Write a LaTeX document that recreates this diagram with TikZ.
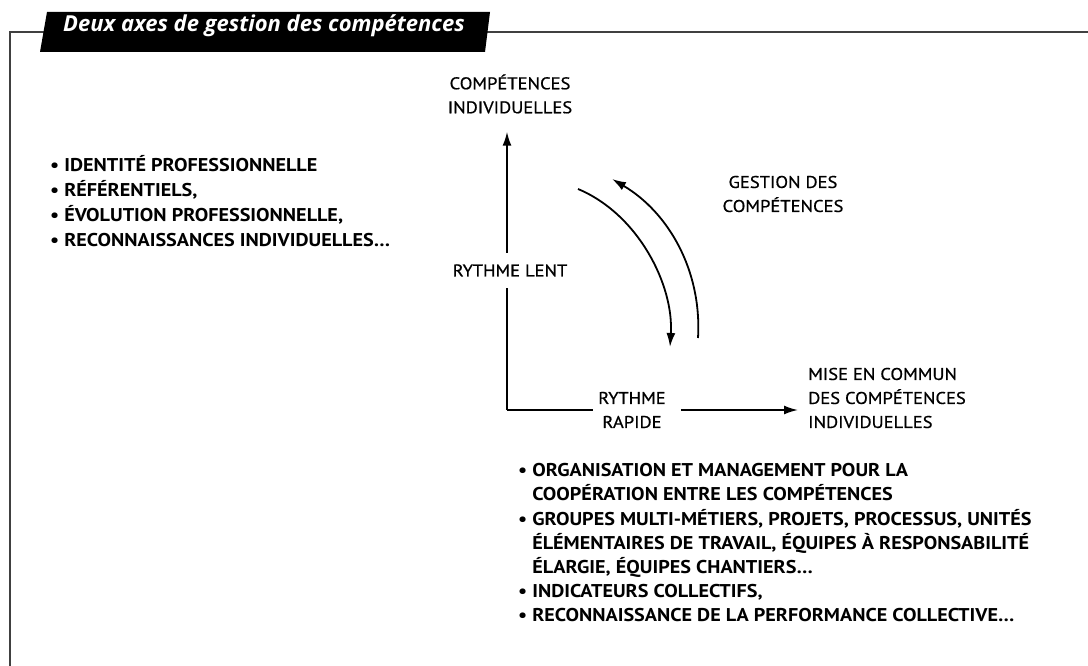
\documentclass[tikz,border=0pt]{standalone}
\usepackage{fontspec}
\setmainfont{PT Sans}[FakeStretch=1.09]
\newfontfamily\titlefont{Open Sans}
\newfontfamily\labelfont{PT Sans}[FakeStretch=1.09,FakeBold=0.7]
\usetikzlibrary{arrows.meta}
\begin{document}
\begin{tikzpicture}[x=1pt,y=-1pt,
  lbl/.style={font=\labelfont\fontsize{17}{24}\selectfont, align=center, inner sep=0pt},
  blist/.style={inner sep=0pt, anchor=north west},
  ax/.style={line width=1.8pt},
  tip/.style={-{Latex[length=14pt,width=9pt]}}]
\useasboundingbox (0,0) rectangle (1088,666);
% frame
\draw[line width=1.6pt, black!75] (10,666) -- (10,32) -- (1088,32);
\fill[black] (47,12) -- (490,12) -- (485,52) -- (40,52) -- cycle;
\node[font=\titlefont\bfseries\itshape\fontsize{22}{24}\selectfont, text=white, anchor=base west, inner sep=0pt] (title) at (63,32) {Deux axes de gestion des compétences};
% labels
\node[lbl] (ci) at (510,94) {COMPÉTENCES\\INDIVIDUELLES};
\node[lbl, inner ysep=11.5pt] (lent) at (510,270.5) {RYTHME LENT};
\node[lbl, inner xsep=5pt] (rapide) at (632,410) {RYTHME\\RAPIDE};
\node[lbl, align=left, anchor=west] (mise) at (808,398) {MISE EN COMMUN\\DES COMPÉTENCES\\INDIVIDUELLES};
\node[lbl] (gestion) at (783,194) {GESTION DES\\COMPÉTENCES};
\coordinate (corner) at (507,410);
% axes
\draw[ax] (corner) -- (lent.south -| corner);
\draw[ax, tip, shorten >=18pt] (lent.north -| corner) -- (ci.south -| corner);
\draw[ax] (corner) -- (rapide.west |- corner);
\draw[ax, tip, shorten <=10pt, shorten >=10pt] (rapide.east |- corner) -- (mise.west |- corner);
% cycle arrows
\coordinate (a1) at (578,189);
\coordinate (a2) at (670,347);
\coordinate (b1) at (698,338);
\coordinate (b2) at (612,179);
\draw[ax, tip] (a1) .. controls (638,214) and (674,285) .. (a2);
\draw[ax, tip] (b1) .. controls (702,270) and (668,212) .. (b2);
% lists
\node[blist] (left) at (50,154) {\bfseries\fontsize{18.5}{25}\selectfont\def\arraystretch{1}\begin{tabular}{@{}l@{\hspace{5pt}}l@{}}
•&IDENTITÉ PROFESSIONNELLE\\
•&RÉFÉRENTIELS,\\
•&ÉVOLUTION PROFESSIONNELLE,\\
•&RECONNAISSANCES INDIVIDUELLES…
\end{tabular}};
\node[blist] (bottom) at (518,459.6) {\bfseries\fontsize{18.5}{24.2}\selectfont\def\arraystretch{1}\begin{tabular}{@{}l@{\hspace{5pt}}l@{}}
•&ORGANISATION ET MANAGEMENT POUR LA\\
&COOPÉRATION ENTRE LES COMPÉTENCES\\
•&GROUPES MULTI-MÉTIERS, PROJETS, PROCESSUS, UNITÉS\\
&ÉLÉMENTAIRES DE TRAVAIL, ÉQUIPES À RESPONSABILITÉ\\
&ÉLARGIE, ÉQUIPES CHANTIERS…\\
•&INDICATEURS COLLECTIFS,\\
•&RECONNAISSANCE DE LA PERFORMANCE COLLECTIVE…
\end{tabular}};
\end{tikzpicture}
\end{document}
